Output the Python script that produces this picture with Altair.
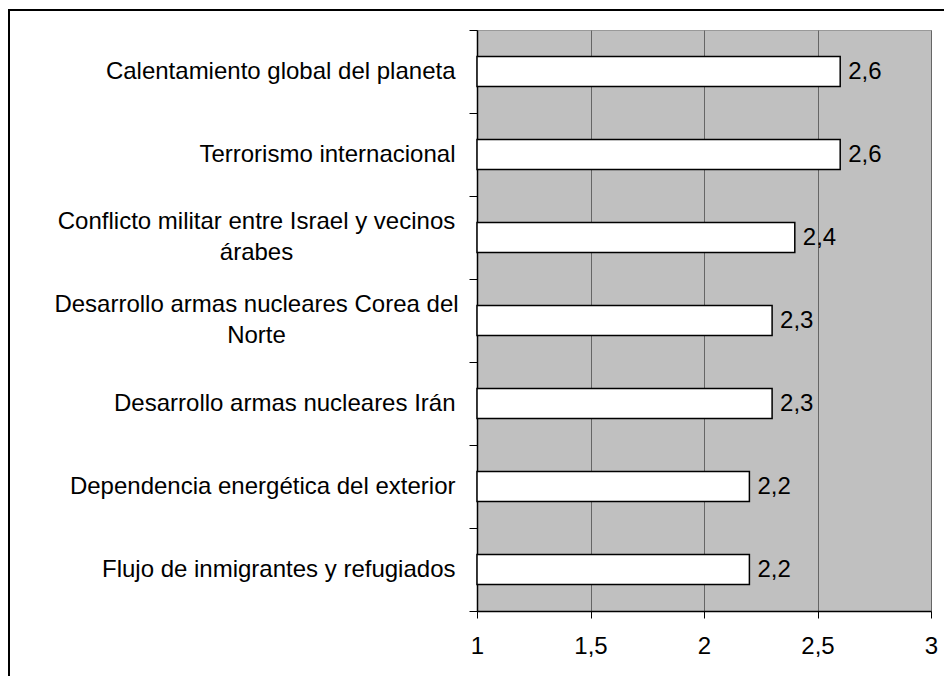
import json
import altair as alt
import pandas as pd

categories = [
    "Calentamiento global del planeta",
    "Terrorismo internacional",
    "Conflicto militar entre Israel y vecinos árabes",
    "Desarrollo armas nucleares Corea del Norte",
    "Desarrollo armas nucleares Irán",
    "Dependencia energética del exterior",
    "Flujo de inmigrantes y refugiados",
]
values = [2.6, 2.6, 2.4, 2.3, 2.3, 2.2, 2.2]
x_ticks = [1, 1.5, 2, 2.5, 3]

# wrapped axis labels
wrapped = {
    "Conflicto militar entre Israel y vecinos árabes": ["Conflicto militar entre Israel y vecinos", "árabes"],
    "Desarrollo armas nucleares Corea del Norte": ["Desarrollo armas nucleares Corea del", "Norte"],
}

df = pd.DataFrame({"cat": categories, "val": values})

expr = "datum.value"
for k, lines in wrapped.items():
    expr = f"datum.value == {json.dumps(k, ensure_ascii=False)} ? {json.dumps(lines, ensure_ascii=False)} : ({expr})"
is_wrapped = " || ".join(f"datum.value == {json.dumps(k, ensure_ascii=False)}" for k in wrapped)

FONT = "Liberation Sans"
FS = 24
W, H = 454, 581
PAD = {"left": 469, "top": 22, "right": 13, "bottom": 65}

y_enc = alt.Y(
    "cat:N",
    sort=categories,
    title=None,
    scale=alt.Scale(paddingInner=0, paddingOuter=0),
    axis=alt.Axis(
        labelExpr=expr,
        labelFont=FONT,
        labelFontSize=FS,
        labelColor="black",
        labelLineHeight=31,
        labelAlign={"condition": {"test": is_wrapped, "value": "center"}, "value": "right"},
        labelPadding={"condition": {"test": is_wrapped, "value": 213}, "value": 14},
        labelOffset={"condition": {"test": is_wrapped, "value": -16}, "value": 0},
        labelLimit=1000,
        tickBand="extent",
        tickSize=8,
        tickColor="black",
        tickWidth=1,
        domainColor="black",
        domainWidth=1.5,
        grid=False,
    ),
)

x_enc = alt.X(
    "val:Q",
    title=None,
    scale=alt.Scale(domain=[1, 3], nice=False, zero=False),
    axis=alt.Axis(
        values=x_ticks,
        labelExpr="replace(toString(datum.value), '.', ',')",
        labelFont=FONT,
        labelFontSize=FS,
        labelColor="black",
        labelPadding=16,
        labelFlush=False,
        tickSize=7,
        tickColor="black",
        tickWidth=1,
        domainColor="black",
        domainWidth=1.5,
        grid=True,
        gridColor="#666666",
        gridWidth=1,
    ),
)

base = alt.Chart(df)

bars = base.mark_bar(size=30, fill="white", stroke="black", strokeWidth=1.5).encode(
    y=y_enc, x=x_enc, x2=alt.datum(1)
)

texts = base.transform_calculate(
    lbl="replace(toString(datum.val), '.', ',')"
).mark_text(align="left", baseline="middle", dx=8, font=FONT, fontSize=FS, color="black").encode(
    y=alt.Y("cat:N", sort=categories), x=alt.X("val:Q"), text="lbl:N"
)

frame_data = alt.Data(values=[{"k": 0}])
top_border = alt.Chart(frame_data).mark_rule(color="black", strokeWidth=2).encode(
    x=alt.value(-469), x2=alt.value(W + PAD["right"]), y=alt.value(-20)
)
left_border = alt.Chart(frame_data).mark_rule(color="black", strokeWidth=2).encode(
    x=alt.value(-468), y=alt.value(-21), y2=alt.value(H + PAD["bottom"])
)

chart = (
    alt.layer(bars, texts, top_border, left_border)
    .properties(
        width=W,
        height=H,
        padding=PAD,
        autosize=alt.AutoSizeParams(type="none"),
        background="white",
    )
    .configure_view(fill="#C0C0C0", stroke="#999999", strokeWidth=1)
)

chart.save("out.html", embed_options={"renderer": "svg", "actions": False})
